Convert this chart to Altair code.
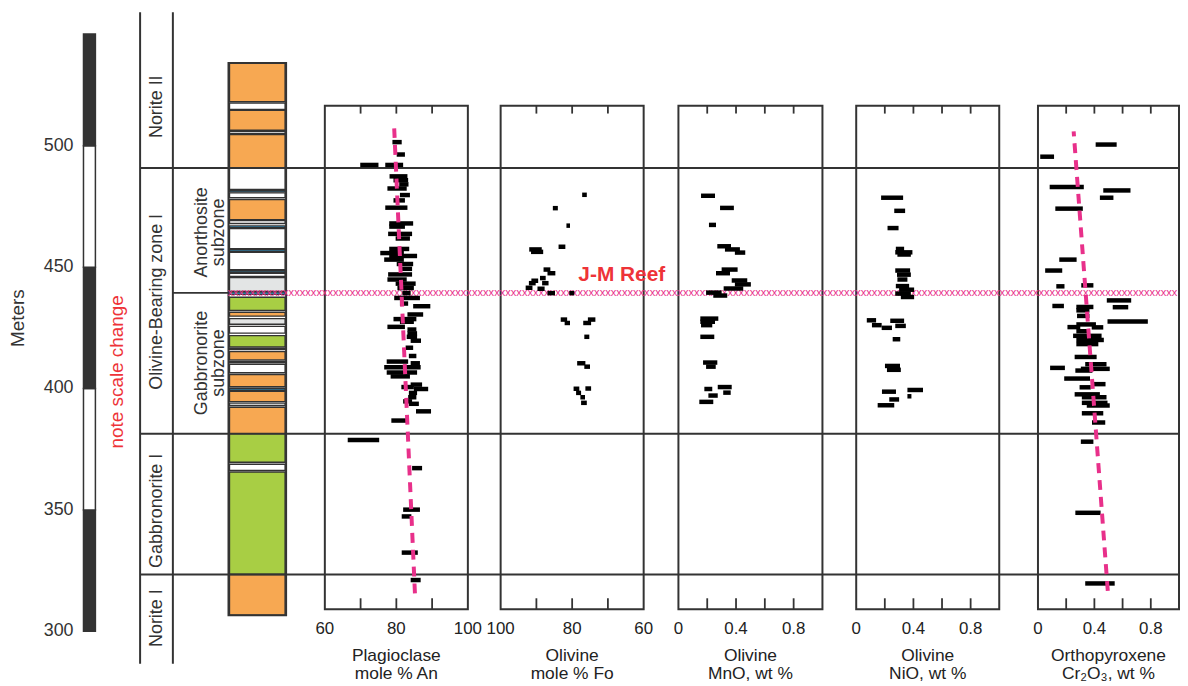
import altair as alt
import pandas as pd

# ------------------------------------------------------------------ data
METER_TICKS = [300, 350, 400, 450, 500]
BAR_BOTTOM = [300, 350, 400, 450, 500]
BAR_TOP = [350, 400, 450, 500, 546]
BAR_KIND = ["dark", "light", "dark", "light", "dark"]

ZONE_BOUNDS = [490.8, 381.4, 323.4]
REEF_DEPTH = 439.4

STRAT_TOP = [534.1, 517.6, 514.6, 505.9, 504.6, 490.8, 481.7, 480.6, 477.8, 469.2,
             467.0, 465.9, 457.2, 456.1, 448.6, 447.5, 445.7, 439.7, 437.6, 431.4,
             428.8, 425.6, 421.8, 416.5, 415.2, 411.3, 410.0, 405.8, 400.1, 398.8,
             394.0, 392.3, 381.4, 368.8, 365.6, 323.4]
STRAT_BOT = [518.2, 515.0, 506.4, 505.0, 490.8, 482.0, 481.0, 478.6, 469.5, 468.0,
             466.3, 457.6, 456.5, 449.0, 447.9, 446.2, 440.0, 438.8, 432.2, 429.8,
             426.5, 422.8, 417.1, 416.0, 411.8, 410.7, 406.5, 400.7, 399.3, 394.6,
             393.0, 381.4, 369.6, 366.3, 323.4, 306.6]
STRAT_KIND = ["norite", "anorthosite", "norite", "anorthosite", "norite", "anorthosite",
              "troctolite", "anorthosite", "norite", "anorthosite", "troctolite",
              "anorthosite", "troctolite", "anorthosite", "troctolite", "anorthosite",
              "other", "troctolite", "gabbronorite", "norite", "other", "anorthosite",
              "gabbronorite", "anorthosite", "norite", "troctolite", "anorthosite",
              "norite", "troctolite", "norite", "anorthosite", "norite", "gabbronorite",
              "anorthosite", "gabbronorite", "norite"]

ZONE1_TEXT = ["Norite II", "Olivine-Bearing zone I", "Gabbronorite I", "Norite I"]
ZONE1_DEPTH = [516.1, 435.7, 349.6, 305.4]
ZONE2_TEXT = ["Anorthosite\nsubzone", "Gabbronorite\nsubzone"]
ZONE2_DEPTH = [464.3, 410.5]

# Plagioclase mole % An
PLAG_DEPTH = [501.5, 496.4, 492.1, 492.1, 487.4, 485.8, 484.1, 482.4, 479.7, 477.5,
              474.5, 468.0, 466.7, 463.7, 461.8, 457.5, 455.8, 454.6, 453.1, 451.3,
              449.3, 447.0, 444.9, 443.2, 441.4, 439.3, 437.3, 435.0, 433.9, 430.5,
              428.6, 427.5, 425.4, 424.3, 422.7, 421.3, 419.7, 416.8, 413.4, 411.1,
              410.4, 408.8, 406.6, 405.0, 401.6, 400.6, 399.8, 398.2, 396.4, 394.7,
              393.7, 390.6, 386.8, 378.8, 367.2, 350.1, 347.3, 332.4, 321.1]
PLAG_MIN = [78.9, 80.1, 69.9, 76.9, 78.1, 79.2, 80.8, 77.5, 81.0, 79.2,
            76.9, 78.0, 78.0, 77.7, 79.8, 78.0, 75.5, 78.0, 76.6, 80.1,
            81.0, 77.7, 77.5, 79.8, 80.3, 81.7, 79.4, 81.0, 84.7, 83.1,
            79.2, 81.0, 77.5, 83.1, 83.1, 82.9, 84.0, 82.6, 83.5, 77.3,
            84.0, 76.6, 77.3, 78.4, 84.0, 81.4, 84.9, 83.5, 83.3, 81.9,
            83.5, 85.5, 78.6, 66.4, 84.4, 81.9, 81.5, 81.5, 84.0]
PLAG_MAX = [81.5, 82.4, 75.0, 81.9, 83.1, 83.3, 83.4, 82.9, 83.8, 82.4,
            83.1, 84.7, 82.4, 84.4, 83.8, 83.6, 82.1, 85.8, 82.1, 84.7,
            84.4, 84.4, 82.9, 85.4, 84.9, 84.0, 86.6, 83.3, 89.5, 87.5,
            85.6, 84.9, 82.4, 85.6, 85.8, 85.8, 86.9, 84.7, 85.6, 83.3,
            86.6, 86.8, 85.8, 83.8, 87.2, 84.9, 88.9, 85.8, 85.6, 84.4,
            86.3, 89.7, 83.5, 75.2, 87.2, 86.6, 84.2, 86.0, 86.8]
PLAG_TREND_DEPTH = [507.2, 315.6]
PLAG_TREND_AN = [79.4, 85.2]

# Olivine mole % Fo
FO_DEPTH = [479.8, 474.3, 467.1, 457.3, 456.3, 458.4, 449.0, 447.5, 444.4, 445.5,
            443.4, 443.4, 441.5, 441.1, 439.3, 439.3, 428.4, 427.0, 427.0, 428.4,
            421.3, 410.4, 409.0, 399.9, 400.0, 398.2, 396.4, 394.1]
FO_MIN = [75.9, 84.0, 80.6, 88.5, 88.1, 81.9, 86.1, 84.7, 89.5, 87.4,
          90.2, 86.6, 91.1, 87.7, 84.8, 79.4, 81.4, 80.6, 74.7, 73.5,
          75.2, 76.3, 75.0, 78.0, 74.7, 77.5, 76.4, 75.9]
FO_MAX = [77.2, 85.4, 81.6, 92.0, 91.5, 83.8, 88.0, 86.9, 91.4, 89.0,
          92.1, 88.4, 93.0, 89.7, 86.9, 80.8, 83.2, 82.1, 76.9, 75.6,
          76.6, 78.6, 76.6, 79.6, 76.3, 78.9, 77.7, 77.5]

# Olivine MnO wt %
MNO_DEPTH = [479.4, 474.4, 467.4, 458.6, 457.3, 456.0, 449.0, 447.5, 444.5, 442.9,
             441.2, 439.5, 438.3, 428.8, 427.5, 426.1, 421.3, 410.7, 409.0, 400.6,
             398.3, 399.8, 397.1, 394.5]
MNO_MIN = [0.157, 0.289, 0.212, 0.270, 0.323, 0.392, 0.300, 0.261, 0.370, 0.392,
           0.314, 0.192, 0.242, 0.152, 0.152, 0.157, 0.152, 0.171, 0.192, 0.273,
           0.311, 0.180, 0.208, 0.145]
MNO_MAX = [0.254, 0.385, 0.261, 0.365, 0.427, 0.464, 0.411, 0.358, 0.478, 0.503,
           0.450, 0.300, 0.339, 0.277, 0.254, 0.235, 0.249, 0.270, 0.259, 0.370,
           0.363, 0.235, 0.273, 0.242]

# Olivine NiO wt %
NIO_DEPTH = [478.6, 473.2, 466.1, 457.5, 456.1, 455.2, 448.6, 446.9, 444.9, 442.2,
             440.7, 439.1, 437.7, 428.1, 426.1, 425.0, 427.9, 425.8, 420.3, 409.3,
             407.7, 398.7, 399.4, 396.8, 395.5, 393.1]
NIO_MIN = [0.174, 0.266, 0.219, 0.277, 0.273, 0.288, 0.273, 0.285, 0.288, 0.277,
           0.300, 0.273, 0.312, 0.074, 0.110, 0.178, 0.238, 0.273, 0.255, 0.201,
           0.215, 0.180, 0.358, 0.358, 0.231, 0.150]
NIO_MAX = [0.328, 0.342, 0.296, 0.335, 0.393, 0.382, 0.377, 0.382, 0.358, 0.370,
           0.405, 0.382, 0.405, 0.139, 0.178, 0.250, 0.335, 0.347, 0.308, 0.306,
           0.312, 0.278, 0.467, 0.386, 0.300, 0.266]

# Orthopyroxene Cr2O3 wt %
CR_DEPTH = [500.5, 495.5, 483.0, 481.6, 478.6, 474.1, 453.1, 448.6, 442.1, 442.5,
            436.3, 434.0, 433.6, 433.5, 432.2, 429.9, 427.6, 426.4, 425.3, 425.2,
            423.6, 421.7, 420.0, 418.3, 413.0, 410.0, 408.5, 408.1, 407.4, 404.1,
            401.8, 400.5, 397.6, 396.4, 394.1, 393.0, 389.8, 386.0, 378.1, 348.8,
            319.7]
CR_MIN = [0.409, 0.016, 0.083, 0.463, 0.439, 0.123, 0.151, 0.051, 0.130, 0.307,
          0.488, 0.102, 0.272, 0.530, 0.272, 0.277, 0.493, 0.272, 0.209, 0.381,
          0.272, 0.249, 0.272, 0.272, 0.260, 0.335, 0.086, 0.304, 0.265, 0.186,
          0.383, 0.295, 0.260, 0.311, 0.311, 0.346, 0.311, 0.383, 0.304, 0.265,
          0.335]
CR_MAX = [0.558, 0.114, 0.325, 0.656, 0.535, 0.318, 0.274, 0.172, 0.188, 0.393,
          0.661, 0.184, 0.393, 0.640, 0.365, 0.365, 0.779, 0.411, 0.300, 0.463,
          0.353, 0.451, 0.467, 0.428, 0.416, 0.486, 0.191, 0.509, 0.386, 0.369,
          0.479, 0.374, 0.439, 0.486, 0.493, 0.509, 0.463, 0.477, 0.393, 0.444,
          0.544]
CR_TREND_DEPTH = [505.9, 316.6]
CR_TREND = [0.253, 0.495]

# ------------------------------------------------------------------ layout / style
OFF = 8
W, H = 1180, 678
DARK = "#333333"
MAG = "#E8308A"
RED = "#EE3338"
FONT = "Liberation Sans"


def X(page_x):
    return page_x - OFF


def M(page_y):  # page pixel -> meters (used only to place layout items)
    return 400 + (388.8 - page_y) / 2.444


Y_DOM = [M(OFF + H), M(OFF)]
ysc = alt.Scale(domain=Y_DOM, nice=False, zero=False)


def Yq(field):
    return alt.Y(field, type="quantitative", scale=ysc, axis=None)


BOX_TOP, BOX_BOT = M(104), M(611)
TOP_TICK, BOT_TICK = 8 / 2.444, 11 / 2.444
LABEL_Y = M(631)
TITLE_Y = M(663)

PANELS = [
    dict(dom=[60, 100], rng=[X(327), X(471)], ticks=[70, 80, 90],
         lab_v=[60, 80, 100], lab_t=["60", "80", "100"], title="Plagioclase\nmole % An",
         depth=PLAG_DEPTH, lo=PLAG_MIN, hi=PLAG_MAX),
    dict(dom=[60, 100], rng=[X(648), X(504)], ticks=[70, 80, 90],
         lab_v=[60, 80, 100], lab_t=["60", "80", "100"], title="Olivine\nmole % Fo",
         depth=FO_DEPTH, lo=FO_MIN, hi=FO_MAX),
    dict(dom=[0, 1], rng=[X(683), X(828)], ticks=[0.2, 0.4, 0.6, 0.8],
         lab_v=[0, 0.4, 0.8], lab_t=["0", "0.4", "0.8"], title="Olivine\nMnO, wt %",
         depth=MNO_DEPTH, lo=MNO_MIN, hi=MNO_MAX),
    dict(dom=[0, 1], rng=[X(862), X(1006)], ticks=[0.2, 0.4, 0.6, 0.8],
         lab_v=[0, 0.4, 0.8], lab_t=["0", "0.4", "0.8"], title="Olivine\nNiO, wt %",
         depth=NIO_DEPTH, lo=NIO_MIN, hi=NIO_MAX),
    dict(dom=[0, 1], rng=[X(1045), X(1187)], ticks=[0.2, 0.4, 0.6, 0.8],
         lab_v=[0, 0.4, 0.8], lab_t=["0", "0.4", "0.8"], title="Orthopyroxene\nCr\u2082O\u2083, wt %",
         depth=CR_DEPTH, lo=CR_MIN, hi=CR_MAX),
]

layers = []

# ---- meters scale bar
bar_df = pd.DataFrame({"b": BAR_BOTTOM, "t": BAR_TOP, "kind": BAR_KIND})
layers.append(
    alt.Chart(bar_df).mark_rect(stroke=DARK, strokeWidth=1.5).encode(
        x=alt.value(X(84)), x2=alt.value(X(96)), y=Yq("b"), y2="t",
        fill=alt.Fill("kind:N", legend=None,
                      scale=alt.Scale(domain=["dark", "light"], range=[DARK, "#FFFFFF"])))
)
layers.append(
    alt.Chart(pd.DataFrame({"m": METER_TICKS})).mark_text(
        align="right", baseline="middle", fontSize=18, font=FONT, color=DARK).encode(
        x=alt.value(X(74)), y=Yq("m"), text=alt.Text("m:Q"))
)
layers.append(
    alt.Chart(pd.DataFrame({"m": [M(318)], "t": ["Meters"]})).mark_text(
        angle=270, align="center", baseline="middle", fontSize=19, font=FONT, color=DARK).encode(
        x=alt.value(X(18)), y=Yq("m"), text="t:N")
)
layers.append(
    alt.Chart(pd.DataFrame({"m": [M(372)], "t": ["note scale change"]})).mark_text(
        angle=270, align="center", baseline="middle", fontSize=19, font=FONT, color=RED).encode(
        x=alt.value(X(118)), y=Yq("m"), text="t:N")
)

# ---- vertical lines of zone label columns
vl_df = pd.DataFrame({"top": [M(10)], "bot": [M(666)]})
for px in (141, 174):
    layers.append(
        alt.Chart(vl_df).mark_rule(color=DARK, strokeWidth=2).encode(
            x=alt.value(X(px)), y=Yq("top"), y2="bot")
    )

# ---- stratigraphic column
strat_df = pd.DataFrame({"t": STRAT_TOP, "b": STRAT_BOT, "kind": STRAT_KIND})
layers.append(
    alt.Chart(strat_df).mark_rect(stroke=DARK, strokeWidth=1.4).encode(
        x=alt.value(X(231)), x2=alt.value(X(287)), y=Yq("t"), y2="b",
        fill=alt.Fill("kind:N", legend=None, scale=alt.Scale(
            domain=["norite", "gabbronorite", "anorthosite", "troctolite", "other"],
            range=["#F7A852", "#A8CE44", "#FFFFFF", "#2E98CE", "#E3E5E5"])))
)
layers.append(
    alt.Chart(pd.DataFrame({"t": [max(STRAT_TOP)], "b": [min(STRAT_BOT)]})).mark_rect(
        fillOpacity=0, stroke=DARK, strokeWidth=2).encode(
        x=alt.value(X(230)), x2=alt.value(X(288)), y=Yq("t"), y2="b")
)

# ---- panel boxes
for p in PANELS:
    xs = alt.Scale(domain=p["dom"], range=p["rng"], nice=False, zero=False)
    box_df = pd.DataFrame({"lo": [p["dom"][0]], "hi": [p["dom"][1]],
                           "t": [BOX_TOP], "b": [BOX_BOT]})
    layers.append(
        alt.Chart(box_df).mark_rect(fillOpacity=0, stroke=DARK, strokeWidth=2).encode(
            x=alt.X("lo:Q", scale=xs, axis=None), x2="hi:Q", y=Yq("t"), y2="b")
    )

# ---- zone boundaries
layers.append(
    alt.Chart(pd.DataFrame({"m": ZONE_BOUNDS})).mark_rule(color=DARK, strokeWidth=2).encode(
        x=alt.value(X(141)), x2=alt.value(W), y=Yq("m"))
)
layers.append(
    alt.Chart(pd.DataFrame({"m": [REEF_DEPTH]})).mark_rule(color=DARK, strokeWidth=2).encode(
        x=alt.value(X(174)), x2=alt.value(X(231)), y=Yq("m"))
)

# ---- zone labels
layers.append(
    alt.Chart(pd.DataFrame({"m": ZONE1_DEPTH, "t": ZONE1_TEXT})).mark_text(
        angle=270, align="center", baseline="middle", fontSize=18, font=FONT, color=DARK).encode(
        x=alt.value(X(158)), y=Yq("m"), text="t:N")
)
layers.append(
    alt.Chart(pd.DataFrame({"m": ZONE2_DEPTH, "t": ZONE2_TEXT})).mark_text(
        angle=270, align="center", baseline="middle", fontSize=18, font=FONT, color=DARK,
        lineBreak="\n", lineHeight=17).encode(
        x=alt.value(X(203)), y=Yq("m"), text="t:N")
)

# ---- J-M reef marker line
layers.append(
    alt.Chart(pd.DataFrame({"m": [REEF_DEPTH], "t": ["x" * 171]})).mark_text(
        align="left", baseline="middle", fontSize=11.2, font=FONT, color=MAG).encode(
        x=alt.value(X(229)), y=Yq("m"), text="t:N")
)

# ---- ticks, tick labels, titles, data, trends
for i, p in enumerate(PANELS):
    xs = alt.Scale(domain=p["dom"], range=p["rng"], nice=False, zero=False)
    n = len(p["ticks"])
    tk_df = pd.DataFrame({
        "v": p["ticks"] * 2,
        "a": [BOX_TOP] * n + [BOX_BOT] * n,
        "b": [BOX_TOP - TOP_TICK] * n + [BOX_BOT + BOT_TICK] * n,
    })
    layers.append(
        alt.Chart(tk_df).mark_rule(color=DARK, strokeWidth=1.8).encode(
            x=alt.X("v:Q", scale=xs, axis=None), y=Yq("a"), y2="b")
    )
    lab_df = pd.DataFrame({"v": p["lab_v"], "t": p["lab_t"], "m": [LABEL_Y] * len(p["lab_v"])})
    layers.append(
        alt.Chart(lab_df).mark_text(
            align="center", baseline="middle", fontSize=17, font=FONT, color="#222222").encode(
            x=alt.X("v:Q", scale=xs, axis=None), y=Yq("m"), text="t:N")
    )
    center = (p["rng"][0] + p["rng"][1]) / 2
    layers.append(
        alt.Chart(pd.DataFrame({"m": [TITLE_Y], "t": [p["title"]]})).mark_text(
            align="center", baseline="alphabetic", fontSize=17.5, font=FONT, color="#222222",
            lineBreak="\n", lineHeight=18).encode(
            x=alt.value(center), y=Yq("m"), text="t:N")
    )
    d_df = pd.DataFrame({"d": p["depth"], "lo": p["lo"], "hi": p["hi"]})
    layers.append(
        alt.Chart(d_df).mark_rule(color="#000000", strokeWidth=4.5, strokeCap="butt").encode(
            x=alt.X("lo:Q", scale=xs, axis=None), x2="hi:Q", y=Yq("d"))
    )
    if i == 0:
        tr = pd.DataFrame({"d": PLAG_TREND_DEPTH, "v": PLAG_TREND_AN})
    elif i == 4:
        tr = pd.DataFrame({"d": CR_TREND_DEPTH, "v": CR_TREND})
    else:
        tr = None
    if tr is not None:
        layers.append(
            alt.Chart(tr).mark_line(color=MAG, strokeWidth=4, strokeDash=[10, 7]).encode(
                x=alt.X("v:Q", scale=xs, axis=None), y=Yq("d"), order="d:Q")
        )

# ---- J-M Reef label
layers.append(
    alt.Chart(pd.DataFrame({"m": [M(281)], "t": ["J-M Reef"]})).mark_text(
        align="center", baseline="alphabetic", fontSize=21, fontWeight="bold",
        font=FONT, color=RED).encode(
        x=alt.value(X(626)), y=Yq("m"), text="t:N")
)

chart = alt.layer(*layers).resolve_scale(x="independent", fill="independent").properties(
    width=W, height=H, padding=0, autosize=alt.AutoSizeParams(type="none")
).configure_view(stroke=None)

chart.save("out.html", embed_options={"renderer": "svg", "actions": False})
